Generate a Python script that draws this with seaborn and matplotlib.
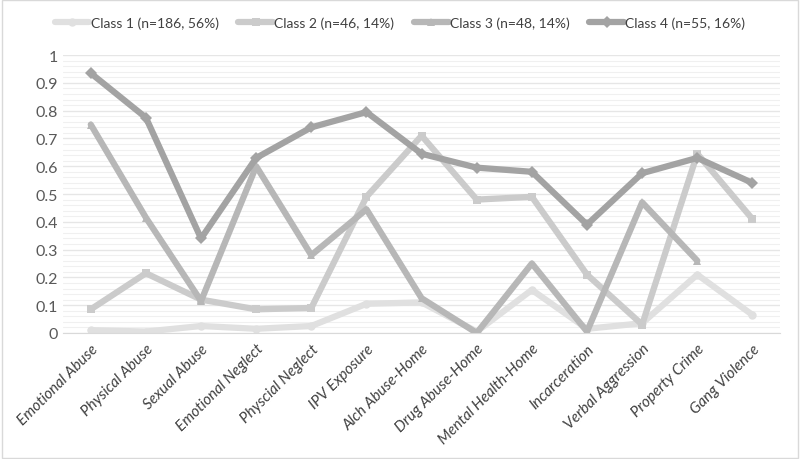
import numpy as np
import pandas as pd
import matplotlib
matplotlib.use("Agg")
import matplotlib.pyplot as plt
import seaborn as sns

# categories and class profiles
items = ["Emotional Abuse", "Physical Abuse", "Sexual Abuse", "Emotional Neglect",
         "Physcial Neglect", "IPV Exposure", "Alch Abuse-Home", "Drug Abuse-Home",
         "Mental Health-Home", "Incarceration", "Verbal Aggression", "Property Crime",
         "Gang Violence"]
class1 = [0.01, 0.005, 0.025, 0.015, 0.025, 0.105, 0.11, 0.005, 0.155, 0.015, 0.035, 0.21, 0.065]
class2 = [0.085, 0.215, 0.12, 0.085, 0.09, 0.49, 0.71, 0.48, 0.49, 0.21, 0.03, 0.645, 0.41]
class3 = [0.75, 0.415, 0.115, 0.6, 0.28, 0.445, 0.125, 0.0, 0.25, 0.005, 0.47, 0.26, np.nan]
class4 = [0.935, 0.775, 0.34, 0.63, 0.74, 0.795, 0.645, 0.595, 0.58, 0.39, 0.575, 0.63, 0.54]
class_names = ["Class 1 (n=186, 56%)", "Class 2 (n=46, 14%)",
               "Class 3 (n=48, 14%)", "Class 4 (n=55, 16%)"]

rows = []
for name, vals in zip(class_names, [class1, class2, class3, class4]):
    for it, v in zip(items, vals):
        rows.append({"item": it, "prob": v, "cls": name})
df = pd.DataFrame(rows).dropna()

sns.set_style("white")
plt.rcParams["font.family"] = ["Lato", "DejaVu Sans"]

fig = plt.figure(figsize=(8, 4.6), dpi=100)
ax = fig.add_axes([0.079, 0.274, 0.896, 0.604])

colors = ["#e0e0e0", "#cbcbcb", "#b7b7b7", "#a3a3a3"]
markers = ["o", "s", "^", "D"]
for name, col, mk in zip(class_names, colors, markers):
    sub = df[df["cls"] == name]
    sns.lineplot(data=sub, x="item", y="prob", ax=ax, color=col, marker=mk,
                 markersize=11, markeredgewidth=0, linewidth=4.5, sort=False,
                 label=name)

ax.set_xlim(-0.5, len(items) - 0.5)
ax.set_ylim(0, 1)
ax.set_yticks(np.arange(0, 1.01, 0.1))
ax.set_yticklabels(["0", "0.1", "0.2", "0.3", "0.4", "0.5", "0.6", "0.7", "0.8", "0.9", "1"])
ax.set_yticks(np.arange(0, 1.001, 0.02), minor=True)
ax.grid(axis="y", which="major", color="#e6e6e6", linewidth=1)
ax.grid(axis="y", which="minor", color="#f0f0f0", linewidth=0.8)
ax.set_axisbelow(True)

ax.set_xticks(range(len(items)))
ax.set_xticklabels(items, rotation=45, ha="right", rotation_mode="anchor",
                   style="italic", fontsize=11, color="#404040")
ax.set_xticks(np.arange(-0.5, len(items), 1), minor=True)
ax.tick_params(axis="x", which="major", length=0, pad=6)
ax.tick_params(axis="x", which="minor", length=5, color="#d9d9d9")
ax.tick_params(axis="y", which="both", length=0, labelsize=11.5, labelcolor="#595959")
ax.set_xlabel("")
ax.set_ylabel("")
for s in ["top", "right", "left"]:
    ax.spines[s].set_visible(False)
ax.spines["bottom"].set_color("#d9d9d9")

ax.get_legend().remove()
handles, labels = ax.get_legend_handles_labels()
for h in handles:
    h.set_markersize(6)
fig.legend(handles, labels, loc="center", bbox_to_anchor=(0.5, 1 - 24 / 460),
           ncol=4, frameon=False, fontsize=10, handlelength=2.5,
           handletextpad=0.1, columnspacing=1.4, labelcolor="#404040")

fig.patches.append(plt.Rectangle((0.002, 0.003), 0.996, 0.994, transform=fig.transFigure,
                                 fill=False, edgecolor="#d9d9d9", linewidth=1))

fig.savefig("out.png", dpi=100, facecolor="white")
